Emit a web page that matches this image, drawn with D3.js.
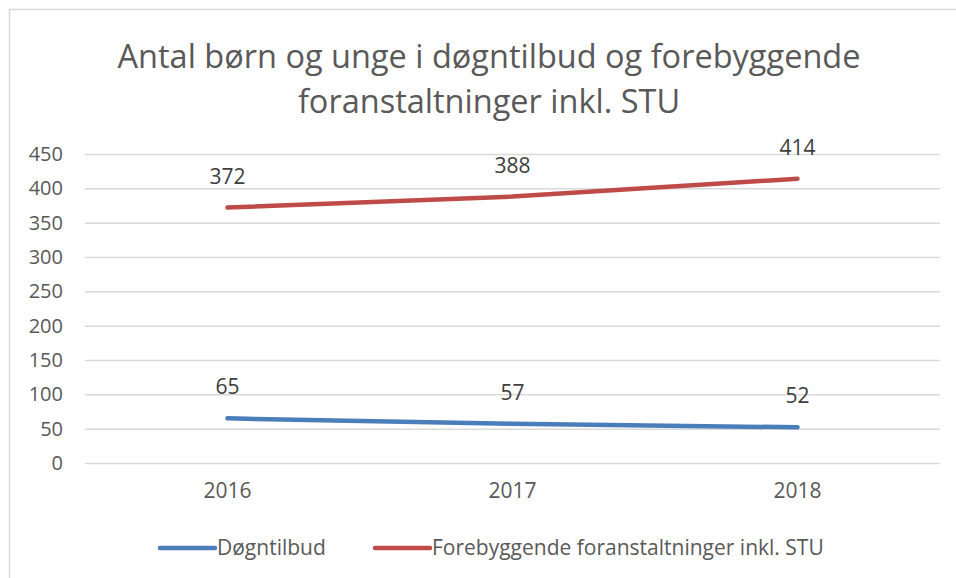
<!DOCTYPE html>
<html>
<head>
<meta charset="utf-8">
<script src="https://cdn.jsdelivr.net/npm/d3@7"></script>
<style>
  body { margin: 0; background: #fff; }
  text { font-family: "Open Sans", "Noto Sans", sans-serif; fill: #595959; }
</style>
</head>
<body>
<script>
// data
let years = ["2016", "2017", "2018"];
let doegntilbud = [65, 57, 52];
let forebyggende = [372, 388, 414];
let yTicks = [0, 50, 100, 150, 200, 250, 300, 350, 400, 450];
let seriesNames = ["Døgntilbud", "Forebyggende foranstaltninger inkl. STU"];
let titleLines = ["Antal børn og unge i døgntilbud og forebyggende", "foranstaltninger inkl. STU"];

let size = {width: 956, height: 578};
let margin = {top: 154, right: 16, bottom: 115, left: 85};
let colors = ["#4a7ebb", "#be4b48"];

let svg = d3.select("body").append("svg")
    .attr("width", size.width).attr("height", size.height);

// chart border
svg.append("rect")
    .attr("x", 9.5).attr("y", 9.5)
    .attr("width", size.width + 20).attr("height", size.height + 20)
    .attr("fill", "none").attr("stroke", "#d9d9d9").attr("stroke-width", 1.5);

// title
let title = svg.append("text")
    .attr("text-anchor", "middle")
    .attr("font-size", 32.5);
title.selectAll("tspan").data(titleLines).join("tspan")
    .attr("x", 489)
    .attr("y", (d, i) => 68 + i * 45)
    .text(d => d);

let x = d3.scaleBand()
    .domain(years)
    .range([margin.left, size.width - margin.right]);
let y = d3.scaleLinear()
    .domain([0, 450])
    .range([size.height - margin.bottom, margin.top]);

// gridlines
let grid = svg.append("g")
    .attr("transform", `translate(${margin.left},0)`)
    .call(d3.axisLeft(y).tickValues(yTicks).tickSize(-(size.width - margin.right - margin.left)).tickFormat(""));
grid.select(".domain").remove();
grid.selectAll("line").attr("stroke", "#d9d9d9").attr("stroke-width", 1.5);

// y axis labels
let yAxis = svg.append("g")
    .attr("transform", `translate(${margin.left - 22},0)`)
    .call(d3.axisLeft(y).tickValues(yTicks).tickSize(0).tickPadding(0));
yAxis.select(".domain").remove();
yAxis.selectAll("text").attr("font-size", 20).attr("font-family", null).style("fill", "#595959");

// x axis labels
let xAxis = svg.append("g")
    .attr("transform", `translate(0,${size.height - margin.bottom})`)
    .call(d3.axisBottom(x).tickSize(0).tickPadding(20));
xAxis.select(".domain").remove();
xAxis.selectAll("text").attr("font-size", 21).attr("font-family", null).style("fill", "#595959");

let line = d3.line()
    .x((d, i) => x(years[i]) + x.bandwidth() / 2)
    .y(d => y(d));

[doegntilbud, forebyggende].forEach((values, s) => {
  svg.append("path")
      .datum(values)
      .attr("fill", "none")
      .attr("stroke", colors[s])
      .attr("stroke-width", 4.5)
      .attr("stroke-linecap", "round")
      .attr("d", line);
  svg.append("g").selectAll("text").data(values).join("text")
      .attr("x", (d, i) => x(years[i]) + x.bandwidth() / 2)
      .attr("y", d => y(d) - 24)
      .attr("text-anchor", "middle")
      .attr("font-size", 21)
      .style("fill", "#404040")
      .text(d => d);
});

// legend
let legendX = [160, 375];
let legend = svg.append("g").selectAll("g").data(seriesNames).join("g")
    .attr("transform", (d, i) => `translate(${legendX[i]},548)`);
legend.append("line")
    .attr("x1", 0).attr("x2", 55)
    .attr("stroke", (d, i) => colors[i])
    .attr("stroke-width", 4.5)
    .attr("stroke-linecap", "round");
legend.append("text")
    .attr("x", 57)
    .attr("dy", "0.35em")
    .attr("font-size", 21)
    .text(d => d);
</script>
</body>
</html>
